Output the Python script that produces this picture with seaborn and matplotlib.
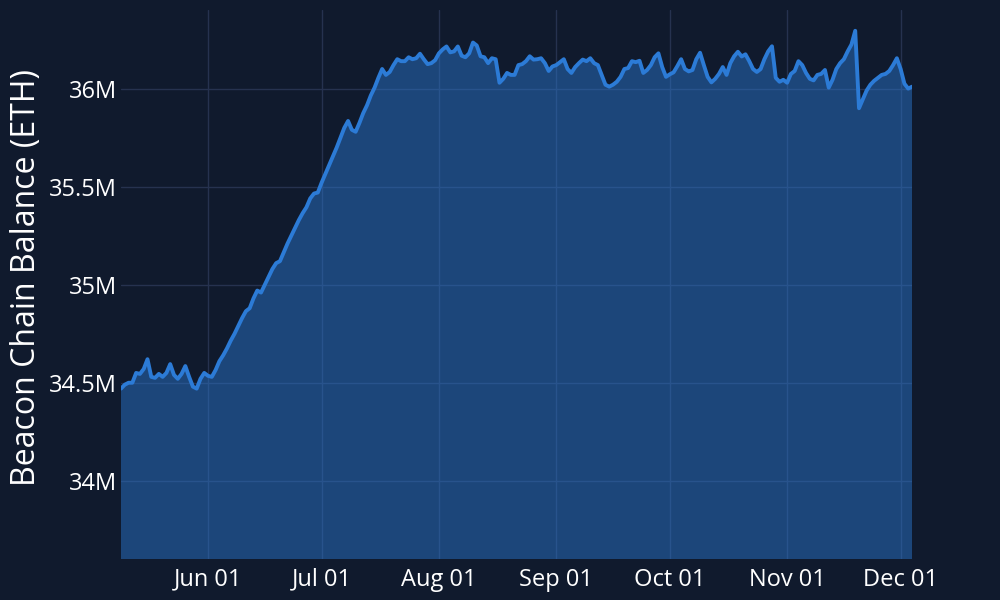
import numpy as np
import pandas as pd
import matplotlib
matplotlib.use("Agg")
import matplotlib.pyplot as plt
import matplotlib.dates as mdates
from matplotlib.ticker import FuncFormatter
import seaborn as sns

# daily beacon chain balance, millions of ETH (May 09 -> Dec 04)
start_date = "2024-05-09"
balance_m = [
    34.47, 34.49, 34.50, 34.50, 34.55, 34.545, 34.57, 34.62, 34.53, 34.525,
    34.545, 34.53, 34.55, 34.595, 34.54, 34.52, 34.545, 34.585, 34.53, 34.48,
    34.47, 34.52, 34.55, 34.535, 34.53, 34.565, 34.61, 34.64, 34.675, 34.715,
    34.75, 34.79, 34.83, 34.865, 34.88, 34.93, 34.97, 34.96, 35.00, 35.04,
    35.08, 35.11, 35.12, 35.165, 35.21, 35.25, 35.29, 35.33, 35.365, 35.395,
    35.44, 35.465, 35.47, 35.52, 35.565, 35.61, 35.655, 35.70, 35.75, 35.80,
    35.835, 35.79, 35.78, 35.825, 35.875, 35.915, 35.965, 36.005, 36.055, 36.10,
    36.07, 36.085, 36.12, 36.15, 36.14, 36.14, 36.16, 36.15, 36.155, 36.178,
    36.15, 36.125, 36.13, 36.145, 36.18, 36.20, 36.215, 36.185, 36.19, 36.215,
    36.168, 36.16, 36.18, 36.235, 36.22, 36.165, 36.16, 36.13, 36.155, 36.15,
    36.03, 36.05, 36.08, 36.07, 36.07, 36.12, 36.125, 36.14, 36.165, 36.148,
    36.15, 36.155, 36.13, 36.09, 36.113, 36.12, 36.135, 36.15, 36.10, 36.08,
    36.11, 36.13, 36.148, 36.14, 36.155, 36.13, 36.12, 36.07, 36.02, 36.01,
    36.02, 36.035, 36.06, 36.10, 36.105, 36.14, 36.135, 36.142, 36.08, 36.095,
    36.12, 36.16, 36.18, 36.11, 36.06, 36.073, 36.083, 36.115, 36.15, 36.10,
    36.088, 36.095, 36.15, 36.183, 36.12, 36.06, 36.032, 36.05, 36.075, 36.11,
    36.07, 36.13, 36.165, 36.188, 36.164, 36.175, 36.14, 36.10, 36.085, 36.10,
    36.15, 36.19, 36.216, 36.055, 36.035, 36.045, 36.03, 36.075, 36.09, 36.14,
    36.12, 36.08, 36.05, 36.042, 36.07, 36.075, 36.095, 36.005, 36.045, 36.10,
    36.13, 36.15, 36.19, 36.225, 36.295, 35.90, 35.945, 35.99, 36.02, 36.04,
    36.055, 36.07, 36.075, 36.09, 36.12, 36.155, 36.10, 36.025, 36.00, 36.01,
]

dates = pd.date_range(start_date, periods=len(balance_m), freq="D")
df = pd.DataFrame({"date": dates, "balance": np.array(balance_m) * 1e6})

bg = "#101a2d"
line_col = "#2c7bd6"
grid_col = "#26324f"

sns.set_theme(style="dark", rc={
    "axes.facecolor": bg,
    "figure.facecolor": bg,
    "axes.grid": True,
    "grid.color": grid_col,
    "grid.linewidth": 1.0,
    "axes.edgecolor": bg,
    "text.color": "white",
    "xtick.color": "white",
    "ytick.color": "white",
    "axes.labelcolor": "white",
})
plt.rcParams["font.family"] = ["Open Sans", "DejaVu Sans"]

fig = plt.figure(figsize=(10, 6), dpi=100)
ax = fig.add_axes([0.121, 0.068, 0.791, 0.915])
ax.set_axisbelow(True)

ax.fill_between(df["date"], df["balance"], 0, color=line_col, alpha=0.46, linewidth=0)
sns.lineplot(data=df, x="date", y="balance", ax=ax, color=line_col, linewidth=2.8)

ax.set_xlim(df["date"].iloc[0], df["date"].iloc[-1])
ax.set_ylim(33.6e6, 36.4e6)
ax.set_yticks([34e6, 34.5e6, 35e6, 35.5e6, 36e6])
ax.yaxis.set_major_formatter(FuncFormatter(lambda v, p: f"{v / 1e6:g}M"))
ax.xaxis.set_major_locator(mdates.MonthLocator())
ax.xaxis.set_major_formatter(mdates.DateFormatter("%b %d"))

for s in ax.spines.values():
    s.set_visible(False)
ax.tick_params(axis="both", length=0, labelsize=17)
ax.tick_params(axis="x", pad=6)
ax.tick_params(axis="y", pad=3)
ax.grid(True, color=grid_col, linewidth=1.0)

ax.set_xlabel("")
ax.set_ylabel("Beacon Chain Balance (ETH)", fontsize=23)
ax.yaxis.set_label_coords(-0.098, 0.514)

fig.savefig("out.png", dpi=100, facecolor=bg)
